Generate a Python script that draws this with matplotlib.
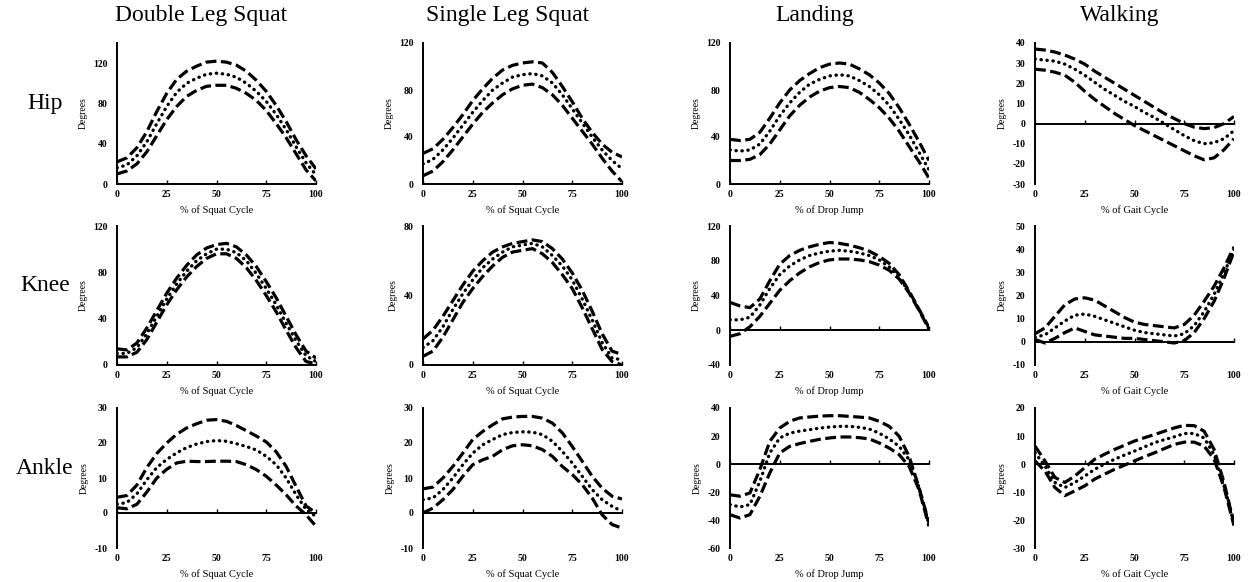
import numpy as np
import matplotlib
matplotlib.use('Agg')
import matplotlib.pyplot as plt

plt.rcParams['font.family'] = ['Liberation Serif', 'DejaVu Serif']
plt.rcParams['font.weight'] = 'bold'
plt.rcParams['axes.unicode_minus'] = False

# percent of cycle, sampled every 5%
pct = np.arange(0, 101, 5)

# Hip
hip_dls_hi = [22, 26, 36, 52, 72, 90, 104, 112, 117, 121, 122, 121, 118, 112, 103, 92, 78, 62, 44, 28, 15]
hip_dls_avg = [16, 19, 28, 42, 60, 77, 91, 100, 105, 109, 110, 109, 106, 100, 92, 82, 69, 54, 37, 21, 9]
hip_dls_lo = [10, 13, 20, 32, 48, 64, 77, 87, 93, 97, 98, 98, 95, 90, 83, 73, 60, 46, 30, 14, 3]

hip_sls_hi = [26, 30, 38, 48, 59, 71, 81, 90, 97, 101, 103, 104, 103, 95, 83, 70, 56, 44, 34, 27, 23]
hip_sls_avg = [17, 21, 29, 39, 50, 61, 71, 80, 86, 91, 93, 94, 92, 86, 76, 64, 52, 40, 29, 20, 13]
hip_sls_lo = [7, 11, 19, 29, 40, 51, 61, 69, 76, 81, 84, 85, 82, 76, 67, 56, 45, 34, 22, 11, 2]

hip_land_hi = [38, 37, 38, 44, 56, 69, 80, 88, 94, 99, 102, 103, 102, 98, 93, 86, 77, 65, 51, 36, 20]
hip_land_avg = [29, 28, 29, 34, 45, 58, 69, 78, 85, 89, 92, 93, 92, 88, 83, 76, 67, 55, 42, 27, 12]
hip_land_lo = [20, 20, 21, 25, 34, 46, 58, 67, 74, 79, 82, 83, 82, 78, 72, 65, 56, 45, 32, 19, 5]

hip_walk_hi = [37, 36.5, 35.5, 34, 32, 29.5, 26, 23, 20, 17, 14, 11, 8, 5, 2.5, 0, -1.8, -2.5, -2, 0, 3.5]
hip_walk_avg = [32, 31.5, 31, 29.5, 27, 24, 20.5, 17, 14, 11, 8.5, 5.5, 3, 0, -3, -6, -8.5, -10, -9.5, -7.5, -3.5]
hip_walk_lo = [27, 26.5, 25.5, 24, 20.5, 16, 12, 8.5, 5, 2, -1, -3.5, -6, -8.5, -11, -13.5, -16, -18, -17, -13, -7.5]

# Knee
knee_dls_hi = [14, 13, 19, 32, 47, 62, 75, 86, 95, 101, 104, 105, 102, 95, 85, 72, 58, 42, 26, 12, 6]
knee_dls_avg = [10, 10, 15, 27, 42, 57, 70, 81, 90, 96, 100, 100, 97, 90, 79, 66, 52, 36, 21, 8, 3]
knee_dls_lo = [7, 7, 11, 22, 37, 52, 65, 76, 85, 92, 96, 96, 92, 84, 73, 60, 46, 30, 15, 3, 1]

knee_sls_hi = [15, 20, 28, 37, 46, 54, 60, 65, 68, 70, 71, 72, 71, 67, 61, 53, 43, 31, 18, 8, 6]
knee_sls_avg = [10, 14, 22, 32, 41, 49, 56, 61, 65, 68, 69, 70, 68, 63, 57, 49, 38, 26, 13, 4, 3]
knee_sls_lo = [5, 8, 16, 26, 36, 44, 51, 57, 62, 65, 66, 67, 64, 59, 52, 44, 33, 21, 9, 2, 0]

knee_land_hi = [32, 28, 26, 36, 57, 76, 86, 92, 96, 99, 101, 100, 98, 95, 91, 85, 77, 64, 45, 24, 3]
knee_land_avg = [12, 12, 15, 29, 48, 64, 74, 81, 86, 89, 91, 92, 91, 89, 86, 81, 73, 61, 44, 24, 2]
knee_land_lo = [-7, -4, 4, 16, 31, 46, 57, 66, 73, 78, 81, 82, 82, 81, 79, 75, 69, 59, 43, 23, 1]

knee_walk_hi = [3.5, 6, 11, 16, 18.5, 19, 18, 15.5, 13, 10.5, 8.5, 7.5, 7, 6.5, 6, 7.5, 11.5, 17.5, 24, 32, 41]
knee_walk_avg = [2, 3, 6, 9, 11.5, 12, 11, 9.5, 8, 6.5, 5, 4, 3.5, 3, 2.5, 3.5, 7, 13, 20.5, 29.5, 40]
knee_walk_lo = [1, -0.5, 1.5, 4, 6, 4.5, 3, 2.5, 2, 1.5, 1.5, 1, 0.5, 0, -0.5, 0.5, 4, 10, 17.5, 27.5, 39]

# Ankle
ankle_dls_hi = [4.5, 5, 8, 13, 17, 20, 22.5, 24.3, 25.5, 26.5, 26.7, 26.2, 25, 23.5, 22, 20.3, 17.5, 13.3, 7.6, 2, 0]
ankle_dls_avg = [2.5, 3, 5.5, 9.5, 13, 15.3, 17.2, 18.7, 19.7, 20.4, 20.7, 20.5, 19.8, 19, 18, 16.2, 13.8, 10, 5.2, 1, -1]
ankle_dls_lo = [1.5, 1.2, 2.5, 6, 10, 12.5, 14.3, 14.8, 14.7, 14.7, 14.8, 14.8, 14.7, 13.8, 12.4, 10.5, 8, 5.2, 2, -0.5, -3.8]

ankle_sls_hi = [6.9, 7.4, 10, 13.3, 17.1, 21, 23.3, 25.2, 26.9, 27.4, 27.6, 27.6, 27.1, 25.7, 22.9, 19, 14.8, 10.5, 7.1, 4.8, 4]
ankle_sls_avg = [3.8, 4.3, 6.7, 10, 13.8, 17.1, 19.5, 21, 22.4, 23, 23.2, 23.1, 22.4, 20.5, 17.6, 14.3, 10.5, 6.7, 3.8, 1.9, 0.5]
ankle_sls_lo = [0, 1.4, 3.8, 6.7, 10.5, 13.8, 15.2, 16.2, 18.1, 19.2, 19.5, 19.2, 18.1, 16.2, 13.3, 11, 8.1, 4.3, -0.5, -3.3, -4.3]

ankle_land_hi = [-22, -23, -20.7, -4, 16.2, 25.7, 30.5, 32.9, 33.6, 34.2, 34.5, 34.5, 34, 33.5, 32.9, 30.5, 26.9, 19.8, 5.5, -17, -42]
ankle_land_avg = [-29, -30.7, -29, -12.4, 7.9, 18.6, 22, 23.5, 24.5, 25.6, 26.4, 26.9, 26.9, 26.2, 25, 22, 17.9, 12.6, 3.1, -17, -43]
ankle_land_lo = [-36.2, -38.6, -36.2, -23.1, -6.4, 7.9, 12.6, 14.6, 16.2, 17.6, 18.6, 19.3, 19.3, 18.8, 17.9, 15, 11.4, 6.7, -1.7, -18.3, -44.5]

ankle_walk_hi = [6.4, 1.1, -4.8, -6.6, -4.3, -1.3, 1.7, 3.5, 5.2, 6.7, 8.2, 9.4, 10.5, 11.7, 12.9, 13.8, 13.7, 11.7, 5.2, -6.6, -21.4]
ankle_walk_avg = [4, -0.7, -6.6, -8.4, -6.6, -4.3, -1.9, 0, 1.7, 3.2, 4.6, 6.1, 7.6, 8.7, 9.7, 10.9, 10.9, 9.3, 3.4, -7.8, -20.8]
ankle_walk_lo = [1.1, -2.5, -8.4, -11.3, -9.6, -7.8, -5.4, -3.6, -1.9, -0.4, 1.1, 2.6, 4, 5.5, 7, 7.8, 7.8, 6.4, 1.7, -8.4, -22]

col_titles = ['Double Leg Squat', 'Single Leg Squat', 'Landing', 'Walking']
row_titles = ['Hip', 'Knee', 'Ankle']
x_titles = ['% of Squat Cycle', '% of Squat Cycle', '% of Drop Jump', '% of Gait Cycle']
x_ticks = [0, 25, 50, 75, 100]

panels = [
    [(hip_dls_hi, hip_dls_avg, hip_dls_lo), (hip_sls_hi, hip_sls_avg, hip_sls_lo),
     (hip_land_hi, hip_land_avg, hip_land_lo), (hip_walk_hi, hip_walk_avg, hip_walk_lo)],
    [(knee_dls_hi, knee_dls_avg, knee_dls_lo), (knee_sls_hi, knee_sls_avg, knee_sls_lo),
     (knee_land_hi, knee_land_avg, knee_land_lo), (knee_walk_hi, knee_walk_avg, knee_walk_lo)],
    [(ankle_dls_hi, ankle_dls_avg, ankle_dls_lo), (ankle_sls_hi, ankle_sls_avg, ankle_sls_lo),
     (ankle_land_hi, ankle_land_avg, ankle_land_lo), (ankle_walk_hi, ankle_walk_avg, ankle_walk_lo)],
]

# (ymin, ymax, step) for each panel
y_scales = [
    [(0, 140, 40), (0, 120, 40), (0, 120, 40), (-30, 40, 10)],
    [(0, 120, 40), (0, 80, 40), (-40, 120, 40), (-10, 50, 10)],
    [(-10, 30, 10), (-10, 30, 10), (-60, 40, 20), (-30, 20, 10)],
]

W, H = 1250, 582
col_left = [117, 423, 730, 1035]
col_width = 199
row_top = [43, 226, 408]
row_bottom = [184, 365, 548]

fig = plt.figure(figsize=(W / 100, H / 100), dpi=100)

dash = dict(color='black', lw=2.3, linestyle=(0, (3.4, 1.4)), dash_capstyle='butt')
dots = dict(color='black', lw=2.4, linestyle=(0, (0.1, 1.7)), dash_capstyle='round')

for r in range(3):
    for c in range(4):
        ax = fig.add_axes([col_left[c] / W, 1 - row_bottom[r] / H,
                           col_width / W, (row_bottom[r] - row_top[r]) / H])
        hi, avg, lo = panels[r][c]
        ax.plot(pct, hi, **dash)
        ax.plot(pct, avg, **dots)
        ax.plot(pct, lo, **dash)

        ymin, ymax, step = y_scales[r][c]
        ax.set_xlim(0, 100)
        ax.set_ylim(ymin, ymax)
        ax.set_yticks(np.arange(ymin, ymax + 1, step))
        ax.set_xticks(x_ticks)
        for side in ('top', 'right'):
            ax.spines[side].set_visible(False)
        ax.spines['left'].set_linewidth(1.4)
        ax.spines['bottom'].set_linewidth(1.4)
        ax.spines['bottom'].set_position(('data', 0))
        ax.tick_params(axis='x', direction='in', length=3, width=1, labelbottom=False)
        ax.tick_params(axis='y', length=0, pad=7, labelsize=7)
        ax.set_ylabel('Degrees', fontsize=7, labelpad=4)

        # category labels sit along the bottom edge, away from the zero line
        sec = ax.secondary_xaxis('bottom')
        sec.set_xticks(x_ticks)
        sec.spines['bottom'].set_visible(False)
        sec.tick_params(length=0, pad=4.5, labelsize=7)
        sec.set_xlabel(x_titles[c], fontsize=7.5, labelpad=4)

for c, title in enumerate(col_titles):
    cx = (col_left[c] + col_width / 2 - 15) / W
    fig.text(cx, 1 - 15 / H, title, ha='center', va='center', fontsize=17, fontweight='normal')

for r, title in enumerate(row_titles):
    cy = 1 - (row_top[r] + 0.43 * (row_bottom[r] - row_top[r])) / H
    fig.text(45 / W, cy, title, ha='center', va='center', fontsize=17, fontweight='normal')

fig.savefig('out.png', dpi=100)
